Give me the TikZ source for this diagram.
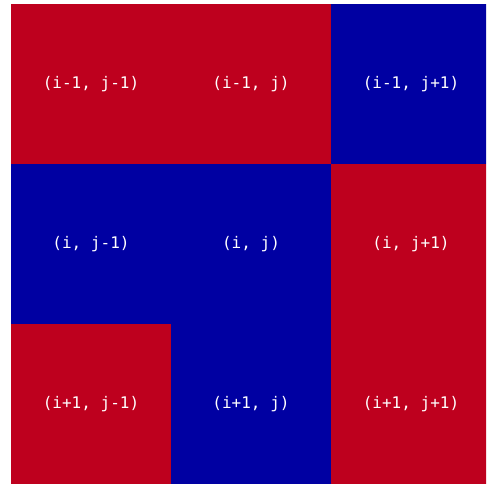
\documentclass[tikz,border=0pt]{standalone}
\usepackage{fontspec}
\setmonofont{DejaVu Sans Mono}
\definecolor{cellred}{RGB}{190,0,30}
\definecolor{cellblue}{RGB}{0,0,162}
\begin{document}
\begin{tikzpicture}[x=1pt,y=1pt,
  cell/.style={minimum width=160pt,minimum height=160pt,inner sep=0pt,outer sep=0pt,
    text=white,font=\ttfamily\fontsize{16}{18}\selectfont},
  rcell/.style={cell,fill=cellred},
  bcell/.style={cell,fill=cellblue}]
\useasboundingbox (0,0) rectangle (488,-483);
\begin{scope}
\clip (11,-4) rectangle (486,-483);
\node[rcell] (a) at (91,-84) {(i-1, j-1)};
\node[rcell] (b) at (251,-84) {(i-1, j)};
\node[bcell] (c) at (411,-84) {(i-1, j+1)};
\node[bcell] (d) at (91,-244) {(i, j-1)};
\node[bcell] (e) at (251,-244) {(i, j)};
\node[rcell] (f) at (411,-244) {(i, j+1)};
\node[rcell] (g) at (91,-404) {(i+1, j-1)};
\node[bcell] (h) at (251,-404) {(i+1, j)};
\node[rcell] (k) at (411,-404) {(i+1, j+1)};
\end{scope}
\end{tikzpicture}
\end{document}
